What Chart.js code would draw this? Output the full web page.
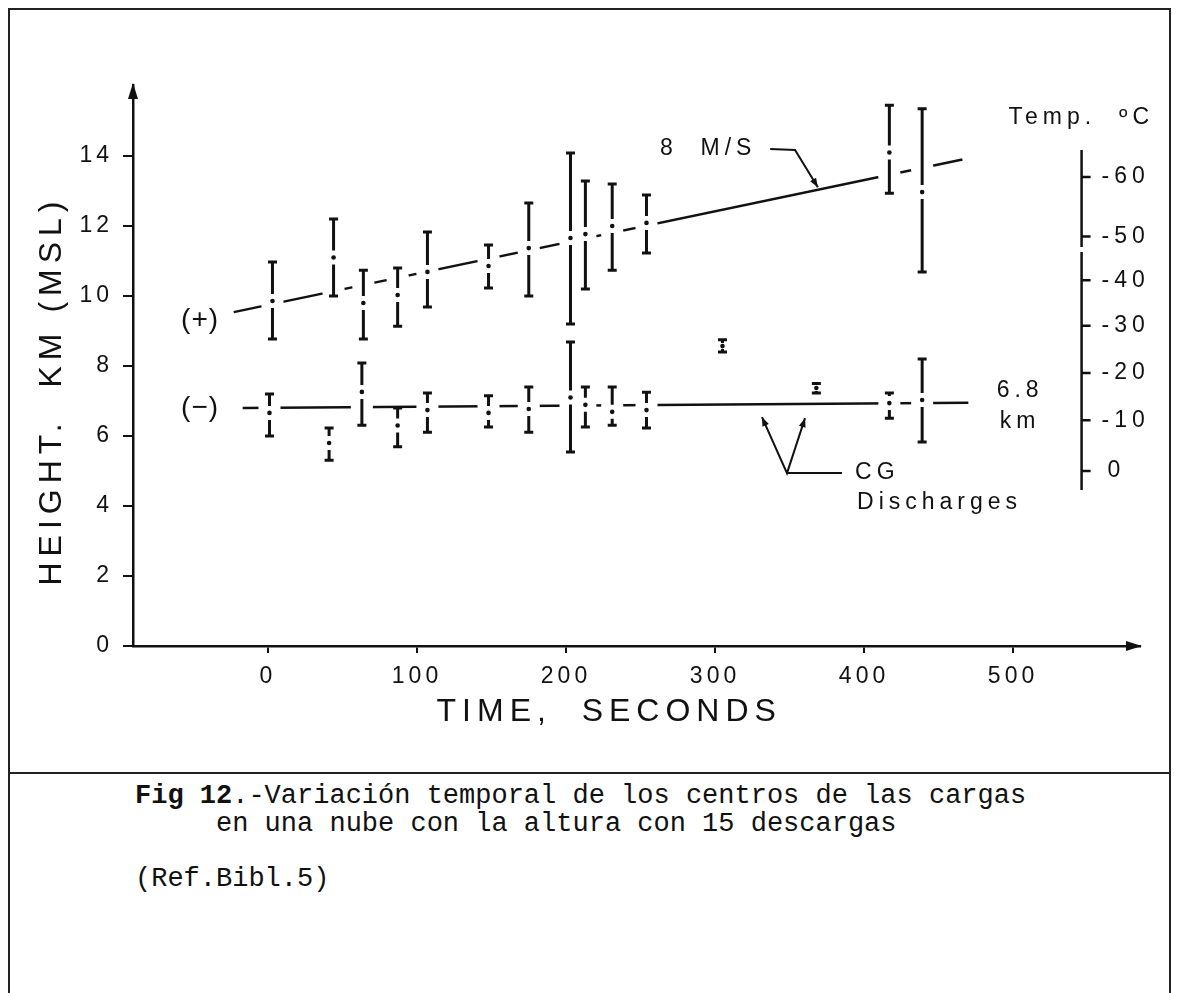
<!DOCTYPE html>
<html>
<head>
<meta charset="utf-8">
<script src="https://cdn.jsdelivr.net/npm/chart.js@4.4.1/dist/chart.umd.min.js"></script>
<style>
  html, body { margin: 0; padding: 0; background: #fff; }
  body { width: 1178px; height: 993px; position: relative; overflow: hidden; }
  #frame { position: absolute; left: 8px; top: 8px; width: 1163px; height: 1000px;
           border: 2px solid #222; border-bottom: none; box-sizing: border-box; }
  #sep { position: absolute; left: 8px; top: 772px; width: 1163px; border-top: 2px solid #222; }
  #wrap { position: absolute; left: 0; top: 0; width: 1178px; height: 772px; }
  #caption { position: absolute; left: 135px; top: 783px; margin: 0;
             font-family: "Liberation Mono", monospace; font-size: 27px; line-height: 27.5px;
             color: #111; white-space: pre; }
</style>
</head>
<body>
<div id="frame"></div>
<div id="wrap"><canvas id="c" width="1178" height="772"></canvas></div>
<div id="sep"></div>
<pre id="caption"><b>Fig 12</b>.-Variación temporal de los centros de las cargas
     en una nube con la altura con 15 descargas

(Ref.Bibl.5)</pre>
<script>
// axis ticks
const timeTicks = [0, 100, 200, 300, 400, 500];
const heightTicks = [0, 2, 4, 6, 8, 10, 12, 14];

// (+) charge centres: time (s), centre / bottom / top height (km)
const posTime = [3, 44, 64, 87, 107, 148, 175, 203, 213, 231, 254, 417, 439];
const posMid  = [9.86, 11.1, 9.8, 10.03, 10.69, 10.86, 11.37, 11.66, 11.77, 12.0, 12.09, 14.1, 12.97];
const posLow  = [8.77, 10.0, 8.77, 9.14, 9.69, 10.23, 10.0, 9.2, 10.2, 10.74, 11.23, 12.94, 10.69];
const posHigh = [10.97, 12.2, 10.74, 10.8, 11.83, 11.46, 12.66, 14.09, 13.29, 13.2, 12.89, 15.45, 15.35];

// (-) charge centres
const negTime = [1, 41, 63, 87, 107, 148, 175, 203, 213, 231, 254, 305, 368, 417, 439];
const negMid  = [6.66, 5.8, 7.26, 6.3, 6.74, 6.66, 6.77, 7.1, 6.89, 6.69, 6.74, 8.57, 7.37, 6.94, 7.03];
const negLow  = [6.0, 5.31, 6.31, 5.69, 6.11, 6.26, 6.11, 5.54, 6.26, 6.31, 6.23, 8.4, 7.23, 6.51, 5.83];
const negHigh = [7.2, 6.23, 8.09, 6.8, 7.23, 7.15, 7.4, 8.69, 7.4, 7.4, 7.25, 8.75, 7.5, 7.23, 8.2];

// fitted lines (8 m/s ascent, 6.8 km level)
const posTrendTime = [-23, 466];
const posTrendKm = [9.54, 13.9];
const negTrendTime = [-17, 470];
const negTrendKm = [6.8, 6.95];

// temperature scale on the right
const tempLabels = ['-60', '-50', '-40', '-30', '-20', '-10', '0'];
const tempKm = [13.4, 11.7, 10.45, 9.15, 7.8, 6.45, 5.0];

const ink = '#111';
Chart.defaults.font.family = '"Liberation Sans", sans-serif';
Chart.defaults.color = ink;

const sketch = {
  id: 'sketch',
  beforeDraw(chart) {
    chart.ctx.letterSpacing = '4px';
  },
  afterDatasetsDraw(chart) {
    const { ctx, scales: { x, y } } = chart;
    const px = v => x.getPixelForValue(v);
    const py = v => y.getPixelForValue(v);
    ctx.save();

    // open a gap in the fitted line wherever a bar crosses it
    const cut = (lt, lk, ts, lo, hi) => {
      const x0 = px(lt[0]), y0 = py(lk[0]), x1 = px(lt[1]), y1 = py(lk[1]);
      const yAt = X => y0 + (y1 - y0) * (X - x0) / (x1 - x0);
      ctx.strokeStyle = '#fff';
      ctx.lineWidth = 7;
      ts.forEach((t, i) => {
        const X = px(t), Y = yAt(X);
        if (X < x0 - 12 || X > x1 + 12) return;
        if (py(lo[i]) < Y || py(hi[i]) > Y) return;
        ctx.beginPath();
        ctx.moveTo(X - 11, yAt(X - 11));
        ctx.lineTo(X + 11, yAt(X + 11));
        ctx.stroke();
      });
    };
    cut(posTrendTime, posTrendKm, posTime, posLow, posHigh);
    cut(negTrendTime, negTrendKm, negTime, negLow, negHigh);

    // error bars with a dot at the centre
    ctx.strokeStyle = ink;
    ctx.fillStyle = ink;
    ctx.lineWidth = 3;
    const bars = (ts, mid, lo, hi) => ts.forEach((t, i) => {
      const X = px(t), yh = py(hi[i]), ym = py(mid[i]), yl = py(lo[i]);
      const g = (yl - yh) > 24 ? 7 : 3;
      ctx.beginPath();
      if (ym - g > yh) { ctx.moveTo(X, yh); ctx.lineTo(X, ym - g); }
      if (ym + g < yl) { ctx.moveTo(X, ym + g); ctx.lineTo(X, yl); }
      ctx.moveTo(X - 4.5, yh); ctx.lineTo(X + 4.5, yh);
      ctx.moveTo(X - 4.5, yl); ctx.lineTo(X + 4.5, yl);
      ctx.stroke();
      ctx.beginPath();
      ctx.arc(X, ym, 2.3, 0, Math.PI * 2);
      ctx.fill();
    });
    bars(posTime, posMid, posLow, posHigh);
    bars(negTime, negMid, negLow, negHigh);

    const head = (xt, yt, xf, yf, len, w) => {
      const a = Math.atan2(yt - yf, xt - xf);
      ctx.beginPath();
      ctx.moveTo(xt, yt);
      ctx.lineTo(xt - len * Math.cos(a) + w * Math.sin(a), yt - len * Math.sin(a) - w * Math.cos(a));
      ctx.lineTo(xt - len * Math.cos(a) - w * Math.sin(a), yt - len * Math.sin(a) + w * Math.cos(a));
      ctx.closePath();
      ctx.fill();
    };
    const poly = pts => {
      ctx.beginPath();
      pts.forEach(([t, k], i) => i ? ctx.lineTo(px(t), py(k)) : ctx.moveTo(px(t), py(k)));
      ctx.stroke();
    };

    // axis arrows
    head(x.left, y.top - 2, x.left, y.top + 20, 16, 5);
    head(x.right + 2, y.bottom, x.right - 20, y.bottom, 16, 5);

    ctx.textBaseline = 'middle';

    // series labels
    ctx.font = '28px "Liberation Sans", sans-serif';
    ctx.letterSpacing = '1px';
    ctx.textAlign = 'center';
    ctx.fillText('(+)', px(-45.6), py(9.31));
    ctx.fillText('(\u2212)', px(-45.6), py(6.8));

    ctx.font = '23px "Liberation Sans", sans-serif';
    ctx.letterSpacing = '5px';
    ctx.textAlign = 'left';
    ctx.fillText('8  M/S', px(263), py(14.2));
    ctx.lineWidth = 2;
    poly([[337, 14.2], [353.7, 14.17], [369, 13.11]]);
    head(px(369), py(13.11), px(353.7), py(14.17), 9, 3.5);

    ctx.fillText('6.8', px(489), py(7.31));
    ctx.fillText('km', px(491), py(6.4));

    // CG discharges pointer
    poly([[331.5, 6.54], [348.3, 4.94], [360.4, 6.51]]);
    poly([[348.3, 4.94], [385.2, 4.94]]);
    head(px(331.5), py(6.54), px(348.3), py(4.94), 9, 3.5);
    head(px(360.4), py(6.51), px(348.3), py(4.94), 9, 3.5);
    ctx.fillText('CG', px(394), py(4.94));
    ctx.fillText('Discharges', px(395.3), py(4.11));

    // temperature axis
    const xt = px(546);
    ctx.lineWidth = 2.5;
    ctx.beginPath();
    ctx.moveTo(xt, py(14.17)); ctx.lineTo(xt, py(11.4));
    ctx.moveTo(xt, py(11.26)); ctx.lineTo(xt, py(4.46));
    tempKm.forEach(k => { ctx.moveTo(xt, py(k)); ctx.lineTo(xt + 9, py(k)); });
    ctx.stroke();
    tempLabels.forEach((s, i) => ctx.fillText(s, xt + (s === '0' ? 26 : 20), py(tempKm[i])));
    ctx.fillText('Temp.  \u00baC', px(497), py(15.1));

    // axis titles
    ctx.font = '32px "Liberation Sans", sans-serif';
    ctx.letterSpacing = '6px';
    ctx.textAlign = 'center';
    ctx.fillText('TIME,  SECONDS', px(229), y.bottom + 66);
    ctx.translate(52, py(7.3));
    ctx.rotate(-Math.PI / 2);
    ctx.fillText('HEIGHT.  KM (MSL)', 0, 0);
    ctx.restore();
  }
};

new Chart(document.getElementById('c'), {
  type: 'scatter',
  data: {
    datasets: [
      { data: posTrendTime.map((t, i) => ({ x: t, y: posTrendKm[i] })),
        showLine: true, borderColor: ink, borderWidth: 2.5, pointRadius: 0 },
      { data: negTrendTime.map((t, i) => ({ x: t, y: negTrendKm[i] })),
        showLine: true, borderColor: ink, borderWidth: 2.5, pointRadius: 0 }
    ]
  },
  options: {
    responsive: false,
    animation: false,
    devicePixelRatio: 1,
    layout: { padding: { left: 0, top: 85, right: 38, bottom: 0 } },
    plugins: { legend: { display: false }, tooltip: { enabled: false } },
    scales: {
      x: {
        type: 'linear', min: -90.6, max: 585.2,
        afterBuildTicks: s => { s.ticks = timeTicks.map(v => ({ value: v })); },
        afterFit: s => { s.height = 126; },
        border: { color: ink, width: 2.5 },
        grid: { drawOnChartArea: false, color: ink, lineWidth: 2, tickLength: 7 },
        ticks: { color: ink, font: { size: 23 }, padding: 10, maxRotation: 0, autoSkip: false }
      },
      y: {
        type: 'linear', min: 0, max: 16.03,
        afterBuildTicks: s => { s.ticks = heightTicks.map(v => ({ value: v })); },
        afterFit: s => { s.width = 133; },
        border: { color: ink, width: 2.5 },
        grid: { drawOnChartArea: false, color: ink, lineWidth: 2, tickLength: 10 },
        ticks: { color: ink, font: { size: 23 }, padding: 10, autoSkip: false }
      }
    }
  },
  plugins: [sketch]
});
</script>
</body>
</html>
